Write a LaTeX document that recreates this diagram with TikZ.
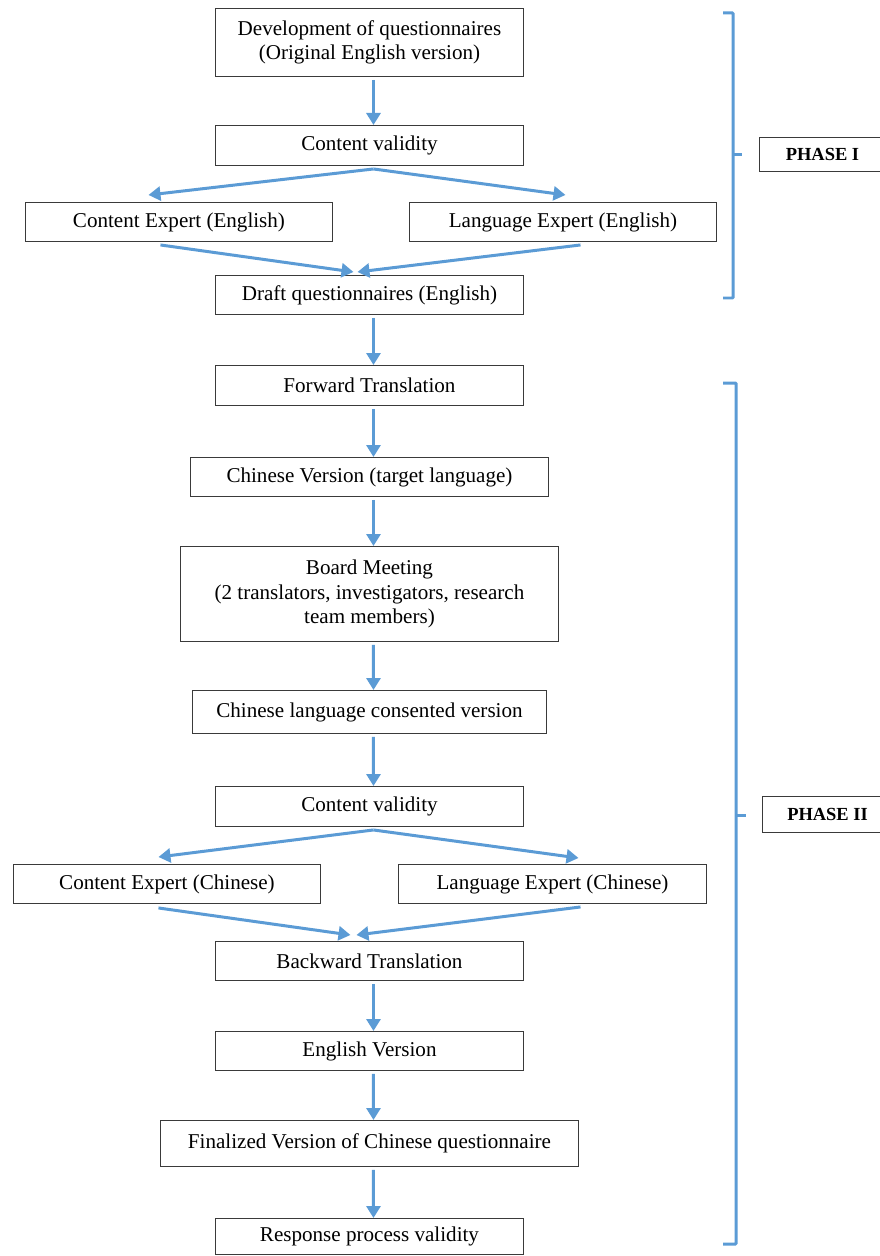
\documentclass[tikz,border=0pt]{standalone}
\usepackage{fontspec}
\setmainfont{Liberation Serif}
\usepackage{xcolor}
\usepackage{tikz}
\usetikzlibrary{arrows.meta}
\usetikzlibrary{shapes,fit,calc,positioning}

\definecolor{flowblue}{HTML}{5B9BD5}
\definecolor{boxgray}{HTML}{3A3A3A}

\tikzset{
  stagebox/.style={draw=boxgray, line width=0.55pt, fill=white, inner sep=2pt, align=center, font=\fontsize{12}{13.9}\selectfont},
  phasebox/.style={draw=boxgray, line width=0.55pt, fill=white, minimum width=2.52cm, font=\fontsize{10.5}{12}\selectfont\bfseries},
  flow/.style={->, >={Triangle[length=0.24cm, width=0.28cm]}, draw=flowblue, fill=flowblue, line width=0.06cm},
  bracket/.style={draw=flowblue, line width=0.06cm, rounded corners=0.5pt}
}

\begin{document}
\begin{tikzpicture}

\useasboundingbox (0,0) rectangle (17.58,-25.12);
\coordinate(O1) at (0,0);

% phase I
\node[below right=0.16cm and 4.3cm of O1, stagebox, minimum width=6.16cm, minimum height=1.36cm](dev) {Development of questionnaires\\(Original English version)};
\node[below right=2.5cm and 4.3cm of O1, stagebox, minimum width=6.16cm, minimum height=0.8cm](cv1) {Content validity};
\node[below right=4.04cm and 0.5cm of O1, stagebox, minimum width=6.14cm, minimum height=0.78cm](ce1) {Content Expert (English)};
\node[below right=4.04cm and 8.18cm of O1, stagebox, minimum width=6.14cm, minimum height=0.78cm](le1) {Language Expert (English)};
\node[below right=5.5cm and 4.3cm of O1, stagebox, minimum width=6.16cm, minimum height=0.78cm](draft) {Draft questionnaires (English)};

% phase II
\node[below right=7.3cm and 4.3cm of O1, stagebox, minimum width=6.16cm, minimum height=0.8cm](fwd) {Forward Translation};
\node[below right=9.14cm and 3.8cm of O1, stagebox, minimum width=7.16cm, minimum height=0.78cm](chv) {Chinese Version (target language)};
\node[below right=10.92cm and 3.6cm of O1, stagebox, minimum width=7.56cm, minimum height=1.9cm](board) {Board Meeting\\(2 translators, investigators, research\\team members)};
\node[below right=13.8cm and 3.84cm of O1, stagebox, minimum width=7.08cm, minimum height=0.86cm](cons) {Chinese language consented version};
\node[below right=15.72cm and 4.3cm of O1, stagebox, minimum width=6.16cm, minimum height=0.8cm](cv2) {Content validity};
\node[below right=17.28cm and 0.26cm of O1, stagebox, minimum width=6.14cm, minimum height=0.78cm](ce2) {Content Expert (Chinese)};
\node[below right=17.28cm and 7.96cm of O1, stagebox, minimum width=6.16cm, minimum height=0.78cm](le2) {Language Expert (Chinese)};
\node[below right=18.82cm and 4.3cm of O1, stagebox, minimum width=6.16cm, minimum height=0.78cm](back) {Backward Translation};
\node[below right=20.62cm and 4.3cm of O1, stagebox, minimum width=6.16cm, minimum height=0.78cm](eng) {English Version};
\node[below right=22.4cm and 3.2cm of O1, stagebox, minimum width=8.36cm, minimum height=0.92cm](fin) {Finalized Version of Chinese questionnaire};
\node[below right=24.36cm and 4.3cm of O1, stagebox, minimum width=6.16cm, minimum height=0.72cm](resp) {Response process validity};

% phase labels
\node[below right=2.74cm and 15.18cm of O1, phasebox, minimum height=0.68cm](ph1) {PHASE I};
\node[below right=15.92cm and 15.24cm of O1, phasebox, minimum width=2.6cm, minimum height=0.72cm](ph2) {PHASE II};

% brackets
\draw[bracket] (14.46,-0.26) -- (14.66,-0.26) -- (14.66,-5.96) -- (14.46,-5.96);
\draw[bracket] (14.66,-3.1) -- (14.84,-3.1);
\draw[bracket] (14.46,-7.66) -- (14.72,-7.66) -- (14.72,-24.88) -- (14.46,-24.88);
\draw[bracket] (14.72,-16.3) -- (14.92,-16.3);

% arrows
\draw[flow] ($(dev.south)+(0.08,-0.06)$) -- ($(cv1.north)+(0.08,0)$);
\draw[flow] ($(cv1.south)+(0.08,-0.06)$) -- ($(ce1.north)+(-0.61,0.14)$);
\draw[flow] ($(cv1.south)+(0.08,-0.06)$) -- ($(le1.north)+(0.05,0.14)$);
\draw[flow] ($(ce1.south)+(-0.37,-0.06)$) -- ($(draft.north)+(-0.32,0.06)$);
\draw[flow] ($(le1.south)+(0.35,-0.06)$) -- ($(draft.north)+(-0.24,0.06)$);
\draw[flow] ($(draft.south)+(0.08,-0.06)$) -- ($(fwd.north)+(0.08,0)$);
\draw[flow] ($(fwd.south)+(0.08,-0.06)$) -- ($(chv.north)+(0.08,0)$);
\draw[flow] ($(chv.south)+(0.08,-0.06)$) -- ($(board.north)+(0.08,0)$);
\draw[flow] ($(board.south)+(0.08,-0.06)$) -- ($(cons.north)+(0.08,0)$);
\draw[flow] ($(cons.south)+(0.08,-0.06)$) -- ($(cv2.north)+(0.08,0)$);
\draw[flow] ($(cv2.south)+(0.08,-0.06)$) -- ($(ce2.north)+(-0.17,0.14)$);
\draw[flow] ($(cv2.south)+(0.08,-0.06)$) -- ($(le2.north)+(0.52,0.12)$);
\draw[flow] ($(ce2.south)+(-0.17,-0.08)$) -- ($(back.north)+(-0.38,0.12)$);
\draw[flow] ($(le2.south)+(0.56,-0.06)$) -- ($(back.north)+(-0.26,0.12)$);
\draw[flow] ($(back.south)+(0.08,-0.06)$) -- ($(eng.north)+(0.08,0)$);
\draw[flow] ($(eng.south)+(0.08,-0.06)$) -- ($(fin.north)+(0.08,0)$);
\draw[flow] ($(fin.south)+(0.08,-0.06)$) -- ($(resp.north)+(0.08,0)$);
\end{tikzpicture}
\end{document}
